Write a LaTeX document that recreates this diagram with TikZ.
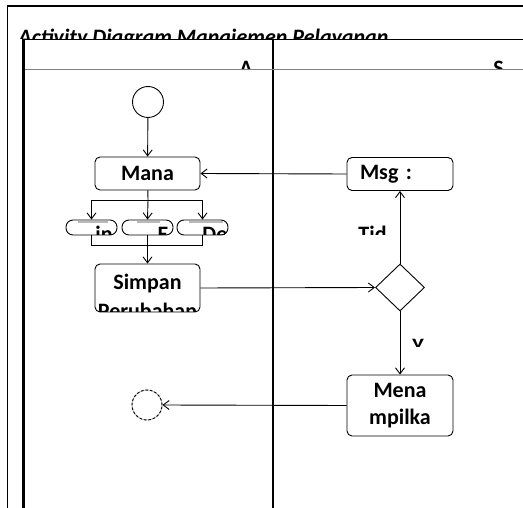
\documentclass[tikz,border=0pt]{standalone}
\usepackage{fontspec}
\setmainfont{Carlito}
\usetikzlibrary{
	shapes.geometric,
	positioning,
	arrows.meta
}
\newcommand{\actfont}{\bfseries\fontsize{22}{27}\selectfont}
\tikzset{
	act/.style={
		draw, rounded corners=5pt,
		minimum width=105pt, minimum height=33pt,
		inner sep=2pt, align=center, font=\actfont
	},
	pill/.style n args={3}{
		draw, rounded corners=7pt,
		minimum width=51pt, minimum height=15pt, inner sep=0pt,
		path picture={
			\draw[gray!55, line width=2pt]
				([xshift=#3,yshift=-2pt]path picture bounding box.north west) -- ++(#2,0);
			\node[font=\actfont, anchor=base west, inner sep=0pt] (#1txt)
				at ([xshift=#3,yshift=-22pt]path picture bounding box.north west) {#1};
		}
	},
	flow/.style={
		-{Straight Barb[length=6pt,width=9pt]}
	},
	cut/.style={font=\actfont, inner sep=0pt}
}

\begin{document}
\begin{tikzpicture}[x=1pt, y=-1pt, line width=0.9pt]
	\useasboundingbox (0,0) rectangle (523,508);

	% title, cut off by the swimlanes
	\begin{scope}
		\clip (8,7) rectangle (523,38.5);
		\node[cut, anchor=base west, font=\bfseries\itshape\fontsize{22}{26}\selectfont] (title)
			at (18,45) {Activity Diagram Manajemen Pelayanan};
	\end{scope}

	% frames
	\draw[line width=1.6pt] (7.5,508) -- (7.5,6) -- (523,6);
	\draw[line width=1.3pt] (23,39.5) -- (523,39.5);
	\draw[line width=3pt] (23.5,39) -- (23.5,508);
	\draw[line width=1.5pt] (273,39) -- (273,508);
	\draw[gray, line width=0.8pt] (25,69) -- (523,69);

	% lane headers
	\begin{scope}
		\clip (25,40) rectangle (523,68.5);
		\node[cut, anchor=base] (laneA) at (246,76) {A};
		\node[cut, anchor=base] (laneS) at (498.5,76) {S};
	\end{scope}

	% nodes
	\node[circle, draw, minimum size=31pt, inner sep=0pt] (start) at (148,102) {};
	\node[act] (mana) at (147.5,173.5) {Mana};
	\node[act, minimum width=106pt, text width=80pt, inner xsep=13pt, align=left]
		(msg) at (400,174) {Msg :};

	\coordinate (fork) at (148,200);
	\node[pill={in}{30pt}{12pt}] (in) at (91.5,227.5) {};
	\node[pill={E}{23pt}{15pt}] (e) at (147.5,227.5) {};
	\node[pill={De}{34pt}{12pt}] (de) at (202.5,227.5) {};
	\coordinate (join) at (148,245);

	\node[act, minimum height=48pt,
		path picture={
			\node[cut, anchor=base] (simpan1)
				at ([yshift=-26pt]path picture bounding box.north) {Simpan};
			\node[cut, anchor=base] (simpan2)
				at ([yshift=-55pt]path picture bounding box.north) {Perubahan};
		}] (simpan) at (147.5,288) {};

	\node[diamond, draw, minimum width=49pt, minimum height=47pt, inner sep=0pt]
		(cek) at (400,287.5) {};
	\node[act, minimum width=106pt, minimum height=61pt] (mena) at (400,405.5) {Mena\\mpilka};
	\node[circle, draw=gray!60, minimum size=30pt, inner sep=0pt,
		postaction={draw, black, dash pattern=on 2.5pt off 2pt}] (end) at (147,405) {};

	% guard labels
	\begin{scope}
		\clip (350,215) rectangle (387,235);
		\node[cut, anchor=base west] (tidak) at (358,242) {Tid};
	\end{scope}
	\begin{scope}
		\clip (405,330) rectangle (428,347);
		\node[cut, anchor=base west] (ya) at (412,354) {Y};
	\end{scope}

	% connectors
	\draw[flow] (start) -- (mana);
	\draw (mana) -- (fork);
	\draw[flow] (fork) -| (in.north);
	\draw[flow] (fork) -- (e.north);
	\draw[flow] (fork) -| (de.north);
	\draw (in.south) |- (join);
	\draw (de.south) |- (join);
	\draw[flow] (e.south) -- (simpan.north);
	\draw[flow] (simpan.east) -- (cek.west);
	\draw[flow] (cek.north) -- (msg.south);
	\draw[flow] (msg.west) -- (mana.east);
	\draw[flow] (cek.south) -- (mena.north);
	\draw[flow] (mena.west) -- (end.east);
\end{tikzpicture}
\end{document}
